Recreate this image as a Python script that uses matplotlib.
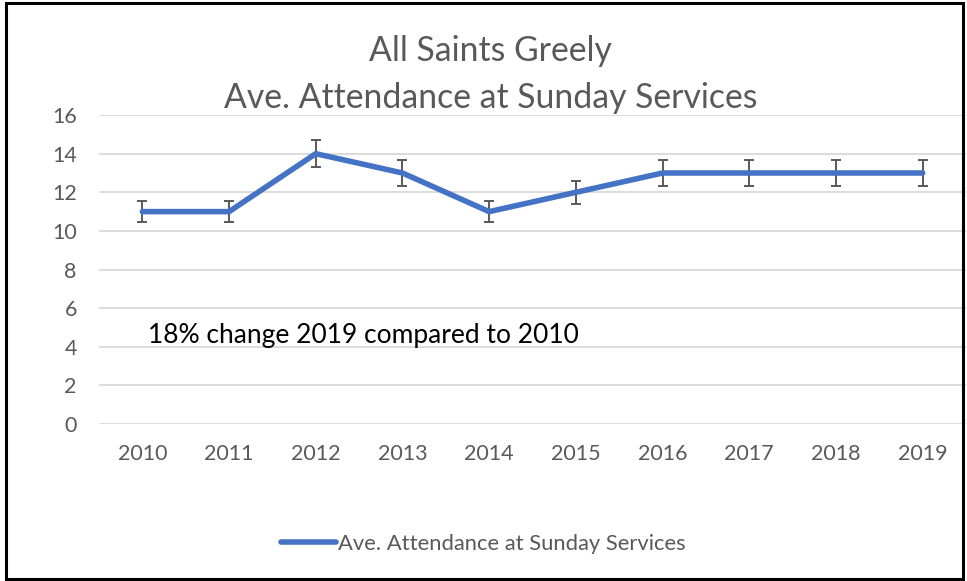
import numpy as np
import matplotlib.pyplot as plt
from matplotlib.patches import Rectangle
from matplotlib.lines import Line2D

plt.rcParams['font.family'] = ['Lato', 'DejaVu Sans']

years = ['2010', '2011', '2012', '2013', '2014', '2015', '2016', '2017', '2018', '2019']
attendance = [11, 11, 14, 13, 11, 12, 13, 13, 13, 13]
err_pct = 0.05   # 5% error bars, as in the original sheet
y_ticks = [0, 2, 4, 6, 8, 10, 12, 14, 16]
series_name = 'Ave. Attendance at Sunday Services'

grey = '#595959'
blue = '#4472C4'

fig = plt.figure(figsize=(9.67, 5.81), dpi=100)
ax = fig.add_axes([0.1024, 0.270, 0.8966, 0.532])

x = np.arange(len(years))
vals = np.array(attendance, dtype=float)
ax.errorbar(x, vals, yerr=vals * err_pct, color=blue, lw=4.0,
            ecolor=grey, elinewidth=1.4, capsize=3.8, capthick=1.4,
            solid_joinstyle='round', solid_capstyle='round', zorder=3)

ax.set_xlim(-0.5, len(years) - 0.5)
ax.set_ylim(0, 16)
ax.set_yticks(y_ticks)
ax.set_xticks(x)
ax.set_xticklabels(years)
ax.tick_params(axis='both', length=0, labelsize=15.5, colors=grey)
ax.tick_params(axis='x', pad=14)
ax.tick_params(axis='y', pad=16)
ax.grid(axis='y', color='#D9D9D9', lw=1.3)
ax.set_axisbelow(True)
for s in ax.spines.values():
    s.set_visible(False)

fig.text(0.507, 0.913, 'All Saints Greely', ha='center', va='center',
         fontsize=24.3, color=grey)
fig.text(0.507, 0.832, 'Ave. Attendance at Sunday Services', ha='center',
         va='center', fontsize=24.3, color=grey)

ax.text(0.07, 4.6, '18% change 2019 compared to 2010', fontsize=19,
        color='black', va='center', ha='left')

handle = Line2D([], [], color=blue, lw=4.0, solid_capstyle='round')
leg = fig.legend([handle], [series_name], loc='center', bbox_to_anchor=(0.5, 0.064),
                 frameon=False, fontsize=15.8, handlelength=2.5, handletextpad=0.1)
for t in leg.get_texts():
    t.set_color(grey)

# black frame round the whole picture
fig.patches.append(Rectangle((0.006, 0.004), 0.99, 0.99, transform=fig.transFigure,
                             fill=False, edgecolor='black', lw=2.2, zorder=10))

fig.savefig('out.png', dpi=100)
